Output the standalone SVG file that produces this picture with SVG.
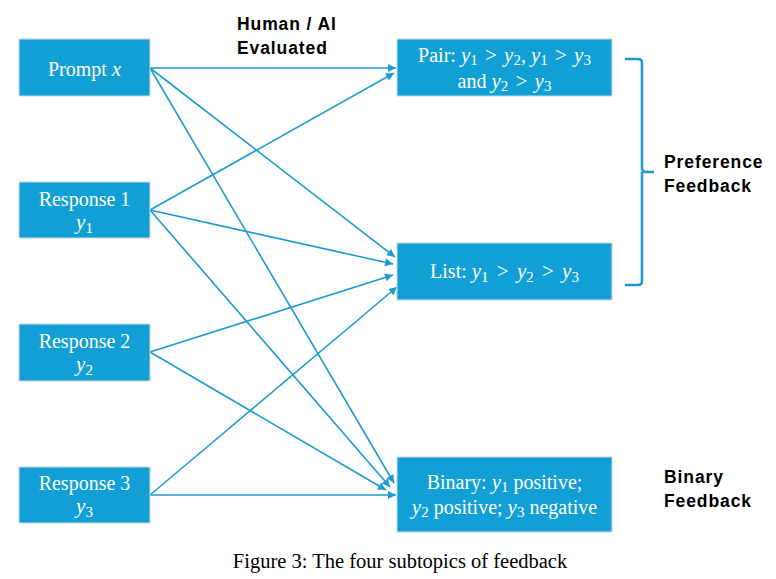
<svg xmlns="http://www.w3.org/2000/svg" width="776" height="579" viewBox="0 0 776 579">
<style>
.box{fill:#129fd6;stroke:#c9d9e2;stroke-width:1}
.bt{font-family:"Liberation Serif","Times New Roman",serif;font-size:20px;fill:#fff;text-anchor:middle}
.m{font-style:italic;font-size:21px}
.s{font-size:15px}
.g{font-size:21px}
.lbl{font-family:"Liberation Sans",Arial,sans-serif;font-weight:bold;font-size:17.5px;fill:#000;letter-spacing:0.9px}
.conn{stroke:#1d9bd1;stroke-width:1.6;fill:none}
.cap{font-family:"Liberation Serif","Times New Roman",serif;font-size:20.5px;fill:#000;text-anchor:middle}
</style>
<defs>
<marker id="ah" viewBox="0 0 10 10" refX="10" refY="5" markerWidth="10" markerHeight="8" markerUnits="userSpaceOnUse" orient="auto">
<path d="M0,0 L10,5 L0,10 z" fill="#1d9bd1"/>
</marker>
</defs>
<g id="connectors">
<line class="conn" x1="150" y1="68" x2="396" y2="68" marker-end="url(#ah)"/>
<line class="conn" x1="150" y1="68" x2="395" y2="257" marker-end="url(#ah)"/>
<line class="conn" x1="150" y1="68" x2="394" y2="483" marker-end="url(#ah)"/>
<line class="conn" x1="150" y1="210" x2="394" y2="73" marker-end="url(#ah)"/>
<line class="conn" x1="150" y1="210" x2="393" y2="264" marker-end="url(#ah)"/>
<line class="conn" x1="150" y1="210" x2="390" y2="487" marker-end="url(#ah)"/>
<line class="conn" x1="150" y1="352" x2="393" y2="275" marker-end="url(#ah)"/>
<line class="conn" x1="150" y1="352" x2="386" y2="490" marker-end="url(#ah)"/>
<line class="conn" x1="150" y1="495" x2="397" y2="287" marker-end="url(#ah)"/>
<line class="conn" x1="150" y1="495" x2="396" y2="495" marker-end="url(#ah)"/>
</g>
<g id="prompt">
<rect class="box" x="19" y="39" width="131" height="57"/>
<text class="bt" x="84.5" y="76">Prompt <tspan class="m">x</tspan></text>
</g>
<g id="response1">
<rect class="box" x="19" y="182" width="131" height="56"/>
<text class="bt" x="84.5" y="206">Response 1</text>
<text class="bt" x="84.5" y="229"><tspan class="m">y</tspan><tspan class="s" dy="4">1</tspan></text>
</g>
<g id="response2">
<rect class="box" x="19" y="324" width="131" height="57"/>
<text class="bt" x="84.5" y="348">Response 2</text>
<text class="bt" x="84.5" y="371"><tspan class="m">y</tspan><tspan class="s" dy="4">2</tspan></text>
</g>
<g id="response3">
<rect class="box" x="19" y="467" width="131" height="56"/>
<text class="bt" x="84.5" y="490">Response 3</text>
<text class="bt" x="84.5" y="513"><tspan class="m">y</tspan><tspan class="s" dy="4">3</tspan></text>
</g>
<g id="pair">
<rect class="box" x="397" y="39" width="215" height="57"/>
<text class="bt" x="504.5" y="62">Pair: <tspan class="m">y</tspan><tspan class="s" dy="3">1</tspan><tspan class="g" dy="-3" dx="2"> &gt; </tspan><tspan class="m" dx="2">y</tspan><tspan class="s" dy="3">2</tspan><tspan dy="-3">, </tspan><tspan class="m">y</tspan><tspan class="s" dy="3">1</tspan><tspan class="g" dy="-3" dx="2"> &gt; </tspan><tspan class="m" dx="2">y</tspan><tspan class="s" dy="3">3</tspan></text>
<text class="bt" x="504.5" y="88">and <tspan class="m">y</tspan><tspan class="s" dy="3">2</tspan><tspan class="g" dy="-3" dx="2"> &gt; </tspan><tspan class="m" dx="2">y</tspan><tspan class="s" dy="3">3</tspan></text>
</g>
<g id="list">
<rect class="box" x="397" y="243" width="215" height="57"/>
<text class="bt" x="504.5" y="278">List: <tspan class="m">y</tspan><tspan class="s" dy="4">1</tspan><tspan class="g" dy="-4" dx="3"> &gt; </tspan><tspan class="m" dx="3">y</tspan><tspan class="s" dy="4">2</tspan><tspan class="g" dy="-4" dx="3"> &gt; </tspan><tspan class="m" dx="3">y</tspan><tspan class="s" dy="4">3</tspan></text>
</g>
<g id="binary">
<rect class="box" x="397" y="457" width="215" height="75"/>
<text class="bt" x="504.5" y="489">Binary: <tspan class="m">y</tspan><tspan class="s" dy="3">1</tspan><tspan dy="-3"> positive;</tspan></text>
<text class="bt" x="504.5" y="514"><tspan class="m">y</tspan><tspan class="s" dy="3">2</tspan><tspan dy="-3"> positive; </tspan><tspan class="m">y</tspan><tspan class="s" dy="3">3</tspan><tspan dy="-3"> negative</tspan></text>
</g>
<g id="brace">
<path d="M625,59 L638,59 Q642,59 642,63 L642,168 Q642,172 646,172 L654,172 M642,172 Q642,176 642,180 L642,281 Q642,285 638,285 L625,285" fill="none" stroke="#1d9bd1" stroke-width="2.5"/>
</g>
<g id="labels">
<text class="lbl" x="237" y="30">Human / AI</text>
<text class="lbl" x="237" y="54">Evaluated</text>
<text class="lbl" x="664" y="168">Preference</text>
<text class="lbl" x="664" y="192">Feedback</text>
<text class="lbl" x="664" y="483">Binary</text>
<text class="lbl" x="664" y="507">Feedback</text>
</g>
<text class="cap" x="400" y="568">Figure 3: The four subtopics of feedback</text>
</svg>
